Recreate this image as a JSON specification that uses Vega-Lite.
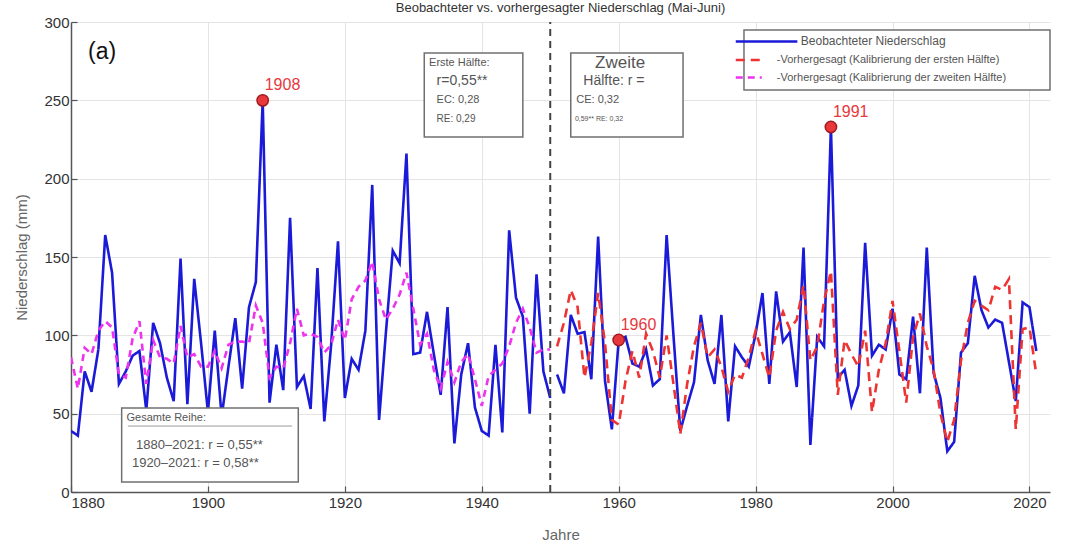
{
  "$schema": "https://vega.github.io/schema/vega-lite/v6.json",
  "width": 979,
  "height": 470,
  "autosize": {"type": "none"},
  "padding": {"left": 71, "top": 22, "right": 15, "bottom": 59},
  "background": "white",
  "title": {
    "text": "Beobachteter vs. vorhergesagter Niederschlag (Mai-Juni)",
    "font": "Liberation Sans",
    "fontSize": 13,
    "fontWeight": "normal",
    "color": "#333333",
    "anchor": "middle",
    "baseline": "middle",
    "offset": 0,
    "dy": 6
  },
  "config": {
    "view": {"stroke": null},
    "font": "Liberation Sans",
    "axis": {
      "labelFont": "Liberation Sans",
      "labelFontSize": 15,
      "labelColor": "#333333",
      "titleFont": "Liberation Sans",
      "titleFontSize": 15,
      "titleFontWeight": "normal",
      "titleColor": "#666666",
      "gridColor": "#e4e4e4",
      "gridWidth": 1,
      "domainColor": "#555555",
      "domainWidth": 1.5,
      "tickColor": "#555555",
      "tickSize": -6,
      "tickWidth": 1.2
    }
  },
  "datasets": {
    "series": [
      {"year": 1880, "value": 39, "series": "obs", "seg": "a"},
      {"year": 1881, "value": 36, "series": "obs", "seg": "a"},
      {"year": 1882, "value": 77, "series": "obs", "seg": "a"},
      {"year": 1883, "value": 64, "series": "obs", "seg": "a"},
      {"year": 1884, "value": 91, "series": "obs", "seg": "a"},
      {"year": 1885, "value": 164, "series": "obs", "seg": "a"},
      {"year": 1886, "value": 140, "series": "obs", "seg": "a"},
      {"year": 1887, "value": 69, "series": "obs", "seg": "a"},
      {"year": 1888, "value": 77, "series": "obs", "seg": "a"},
      {"year": 1889, "value": 87, "series": "obs", "seg": "a"},
      {"year": 1890, "value": 90, "series": "obs", "seg": "a"},
      {"year": 1891, "value": 52, "series": "obs", "seg": "a"},
      {"year": 1892, "value": 108, "series": "obs", "seg": "a"},
      {"year": 1893, "value": 95, "series": "obs", "seg": "a"},
      {"year": 1894, "value": 73, "series": "obs", "seg": "a"},
      {"year": 1895, "value": 58, "series": "obs", "seg": "a"},
      {"year": 1896, "value": 149, "series": "obs", "seg": "a"},
      {"year": 1897, "value": 56, "series": "obs", "seg": "a"},
      {"year": 1898, "value": 136, "series": "obs", "seg": "a"},
      {"year": 1899, "value": 95, "series": "obs", "seg": "a"},
      {"year": 1900, "value": 51, "series": "obs", "seg": "a"},
      {"year": 1901, "value": 103, "series": "obs", "seg": "a"},
      {"year": 1902, "value": 48, "series": "obs", "seg": "a"},
      {"year": 1903, "value": 80, "series": "obs", "seg": "a"},
      {"year": 1904, "value": 111, "series": "obs", "seg": "a"},
      {"year": 1905, "value": 66, "series": "obs", "seg": "a"},
      {"year": 1906, "value": 118, "series": "obs", "seg": "a"},
      {"year": 1907, "value": 134, "series": "obs", "seg": "a"},
      {"year": 1908, "value": 250, "series": "obs", "seg": "a"},
      {"year": 1909, "value": 57, "series": "obs", "seg": "a"},
      {"year": 1910, "value": 94, "series": "obs", "seg": "a"},
      {"year": 1911, "value": 65, "series": "obs", "seg": "a"},
      {"year": 1912, "value": 175, "series": "obs", "seg": "a"},
      {"year": 1913, "value": 67, "series": "obs", "seg": "a"},
      {"year": 1914, "value": 74, "series": "obs", "seg": "a"},
      {"year": 1915, "value": 53, "series": "obs", "seg": "a"},
      {"year": 1916, "value": 143, "series": "obs", "seg": "a"},
      {"year": 1917, "value": 45, "series": "obs", "seg": "a"},
      {"year": 1918, "value": 94, "series": "obs", "seg": "a"},
      {"year": 1919, "value": 160, "series": "obs", "seg": "a"},
      {"year": 1920, "value": 60, "series": "obs", "seg": "a"},
      {"year": 1921, "value": 85, "series": "obs", "seg": "a"},
      {"year": 1922, "value": 78, "series": "obs", "seg": "a"},
      {"year": 1923, "value": 103, "series": "obs", "seg": "a"},
      {"year": 1924, "value": 196, "series": "obs", "seg": "a"},
      {"year": 1925, "value": 46, "series": "obs", "seg": "a"},
      {"year": 1926, "value": 102, "series": "obs", "seg": "a"},
      {"year": 1927, "value": 154, "series": "obs", "seg": "a"},
      {"year": 1928, "value": 146, "series": "obs", "seg": "a"},
      {"year": 1929, "value": 216, "series": "obs", "seg": "a"},
      {"year": 1930, "value": 88, "series": "obs", "seg": "a"},
      {"year": 1931, "value": 89, "series": "obs", "seg": "a"},
      {"year": 1932, "value": 115, "series": "obs", "seg": "a"},
      {"year": 1933, "value": 88, "series": "obs", "seg": "a"},
      {"year": 1934, "value": 62, "series": "obs", "seg": "a"},
      {"year": 1935, "value": 118, "series": "obs", "seg": "a"},
      {"year": 1936, "value": 31, "series": "obs", "seg": "a"},
      {"year": 1937, "value": 75, "series": "obs", "seg": "a"},
      {"year": 1938, "value": 95, "series": "obs", "seg": "a"},
      {"year": 1939, "value": 54, "series": "obs", "seg": "a"},
      {"year": 1940, "value": 39, "series": "obs", "seg": "a"},
      {"year": 1941, "value": 36, "series": "obs", "seg": "a"},
      {"year": 1942, "value": 94, "series": "obs", "seg": "a"},
      {"year": 1943, "value": 38, "series": "obs", "seg": "a"},
      {"year": 1944, "value": 167, "series": "obs", "seg": "a"},
      {"year": 1945, "value": 124, "series": "obs", "seg": "a"},
      {"year": 1946, "value": 112, "series": "obs", "seg": "a"},
      {"year": 1947, "value": 50, "series": "obs", "seg": "a"},
      {"year": 1948, "value": 139, "series": "obs", "seg": "a"},
      {"year": 1949, "value": 77, "series": "obs", "seg": "a"},
      {"year": 1950, "value": 60, "series": "obs", "seg": "a"},
      {"year": 1951, "value": 75, "series": "obs", "seg": "b"},
      {"year": 1952, "value": 63, "series": "obs", "seg": "b"},
      {"year": 1953, "value": 113, "series": "obs", "seg": "b"},
      {"year": 1954, "value": 101, "series": "obs", "seg": "b"},
      {"year": 1955, "value": 102, "series": "obs", "seg": "b"},
      {"year": 1956, "value": 72, "series": "obs", "seg": "b"},
      {"year": 1957, "value": 163, "series": "obs", "seg": "b"},
      {"year": 1958, "value": 71, "series": "obs", "seg": "b"},
      {"year": 1959, "value": 40, "series": "obs", "seg": "b"},
      {"year": 1960, "value": 97, "series": "obs", "seg": "b"},
      {"year": 1961, "value": 99, "series": "obs", "seg": "b"},
      {"year": 1962, "value": 82, "series": "obs", "seg": "b"},
      {"year": 1963, "value": 80, "series": "obs", "seg": "b"},
      {"year": 1964, "value": 91, "series": "obs", "seg": "b"},
      {"year": 1965, "value": 68, "series": "obs", "seg": "b"},
      {"year": 1966, "value": 72, "series": "obs", "seg": "b"},
      {"year": 1967, "value": 164, "series": "obs", "seg": "b"},
      {"year": 1968, "value": 100, "series": "obs", "seg": "b"},
      {"year": 1969, "value": 39, "series": "obs", "seg": "b"},
      {"year": 1970, "value": 55, "series": "obs", "seg": "b"},
      {"year": 1971, "value": 70, "series": "obs", "seg": "b"},
      {"year": 1972, "value": 113, "series": "obs", "seg": "b"},
      {"year": 1973, "value": 84, "series": "obs", "seg": "b"},
      {"year": 1974, "value": 69, "series": "obs", "seg": "b"},
      {"year": 1975, "value": 113, "series": "obs", "seg": "b"},
      {"year": 1976, "value": 45, "series": "obs", "seg": "b"},
      {"year": 1977, "value": 93, "series": "obs", "seg": "b"},
      {"year": 1978, "value": 86, "series": "obs", "seg": "b"},
      {"year": 1979, "value": 80, "series": "obs", "seg": "b"},
      {"year": 1980, "value": 101, "series": "obs", "seg": "b"},
      {"year": 1981, "value": 127, "series": "obs", "seg": "b"},
      {"year": 1982, "value": 69, "series": "obs", "seg": "b"},
      {"year": 1983, "value": 128, "series": "obs", "seg": "b"},
      {"year": 1984, "value": 96, "series": "obs", "seg": "b"},
      {"year": 1985, "value": 102, "series": "obs", "seg": "b"},
      {"year": 1986, "value": 67, "series": "obs", "seg": "b"},
      {"year": 1987, "value": 156, "series": "obs", "seg": "b"},
      {"year": 1988, "value": 30, "series": "obs", "seg": "b"},
      {"year": 1989, "value": 99, "series": "obs", "seg": "b"},
      {"year": 1990, "value": 93, "series": "obs", "seg": "b"},
      {"year": 1991, "value": 233, "series": "obs", "seg": "b"},
      {"year": 1992, "value": 73, "series": "obs", "seg": "b"},
      {"year": 1993, "value": 78, "series": "obs", "seg": "b"},
      {"year": 1994, "value": 55, "series": "obs", "seg": "b"},
      {"year": 1995, "value": 68, "series": "obs", "seg": "b"},
      {"year": 1996, "value": 159, "series": "obs", "seg": "b"},
      {"year": 1997, "value": 87, "series": "obs", "seg": "b"},
      {"year": 1998, "value": 94, "series": "obs", "seg": "b"},
      {"year": 1999, "value": 91, "series": "obs", "seg": "b"},
      {"year": 2000, "value": 117, "series": "obs", "seg": "b"},
      {"year": 2001, "value": 75, "series": "obs", "seg": "b"},
      {"year": 2002, "value": 72, "series": "obs", "seg": "b"},
      {"year": 2003, "value": 112, "series": "obs", "seg": "b"},
      {"year": 2004, "value": 63, "series": "obs", "seg": "b"},
      {"year": 2005, "value": 156, "series": "obs", "seg": "b"},
      {"year": 2006, "value": 76, "series": "obs", "seg": "b"},
      {"year": 2007, "value": 60, "series": "obs", "seg": "b"},
      {"year": 2008, "value": 26, "series": "obs", "seg": "b"},
      {"year": 2009, "value": 32, "series": "obs", "seg": "b"},
      {"year": 2010, "value": 89, "series": "obs", "seg": "b"},
      {"year": 2011, "value": 95, "series": "obs", "seg": "b"},
      {"year": 2012, "value": 138, "series": "obs", "seg": "b"},
      {"year": 2013, "value": 116, "series": "obs", "seg": "b"},
      {"year": 2014, "value": 105, "series": "obs", "seg": "b"},
      {"year": 2015, "value": 110, "series": "obs", "seg": "b"},
      {"year": 2016, "value": 108, "series": "obs", "seg": "b"},
      {"year": 2017, "value": 83, "series": "obs", "seg": "b"},
      {"year": 2018, "value": 58, "series": "obs", "seg": "b"},
      {"year": 2019, "value": 121, "series": "obs", "seg": "b"},
      {"year": 2020, "value": 118, "series": "obs", "seg": "b"},
      {"year": 2021, "value": 90, "series": "obs", "seg": "b"},

      {"year": 1880, "value": 86, "series": "pred2", "seg": "a"},
      {"year": 1881, "value": 66, "series": "pred2", "seg": "a"},
      {"year": 1882, "value": 92, "series": "pred2", "seg": "a"},
      {"year": 1883, "value": 88, "series": "pred2", "seg": "a"},
      {"year": 1884, "value": 103, "series": "pred2", "seg": "a"},
      {"year": 1885, "value": 109, "series": "pred2", "seg": "a"},
      {"year": 1886, "value": 105, "series": "pred2", "seg": "a"},
      {"year": 1887, "value": 75, "series": "pred2", "seg": "a"},
      {"year": 1888, "value": 73, "series": "pred2", "seg": "a"},
      {"year": 1889, "value": 98, "series": "pred2", "seg": "a"},
      {"year": 1890, "value": 109, "series": "pred2", "seg": "a"},
      {"year": 1891, "value": 69, "series": "pred2", "seg": "a"},
      {"year": 1892, "value": 97, "series": "pred2", "seg": "a"},
      {"year": 1893, "value": 86, "series": "pred2", "seg": "a"},
      {"year": 1894, "value": 85, "series": "pred2", "seg": "a"},
      {"year": 1895, "value": 82, "series": "pred2", "seg": "a"},
      {"year": 1896, "value": 106, "series": "pred2", "seg": "a"},
      {"year": 1897, "value": 86, "series": "pred2", "seg": "a"},
      {"year": 1898, "value": 88, "series": "pred2", "seg": "a"},
      {"year": 1899, "value": 80, "series": "pred2", "seg": "a"},
      {"year": 1900, "value": 80, "series": "pred2", "seg": "a"},
      {"year": 1901, "value": 90, "series": "pred2", "seg": "a"},
      {"year": 1902, "value": 79, "series": "pred2", "seg": "a"},
      {"year": 1903, "value": 94, "series": "pred2", "seg": "a"},
      {"year": 1904, "value": 96, "series": "pred2", "seg": "a"},
      {"year": 1905, "value": 96, "series": "pred2", "seg": "a"},
      {"year": 1906, "value": 95, "series": "pred2", "seg": "a"},
      {"year": 1907, "value": 119, "series": "pred2", "seg": "a"},
      {"year": 1908, "value": 108, "series": "pred2", "seg": "a"},
      {"year": 1909, "value": 73, "series": "pred2", "seg": "a"},
      {"year": 1910, "value": 80, "series": "pred2", "seg": "a"},
      {"year": 1911, "value": 79, "series": "pred2", "seg": "a"},
      {"year": 1912, "value": 95, "series": "pred2", "seg": "a"},
      {"year": 1913, "value": 117, "series": "pred2", "seg": "a"},
      {"year": 1914, "value": 100, "series": "pred2", "seg": "a"},
      {"year": 1915, "value": 101, "series": "pred2", "seg": "a"},
      {"year": 1916, "value": 99, "series": "pred2", "seg": "a"},
      {"year": 1917, "value": 89, "series": "pred2", "seg": "a"},
      {"year": 1918, "value": 94, "series": "pred2", "seg": "a"},
      {"year": 1919, "value": 110, "series": "pred2", "seg": "a"},
      {"year": 1920, "value": 97, "series": "pred2", "seg": "a"},
      {"year": 1921, "value": 123, "series": "pred2", "seg": "a"},
      {"year": 1922, "value": 131, "series": "pred2", "seg": "a"},
      {"year": 1923, "value": 135, "series": "pred2", "seg": "a"},
      {"year": 1924, "value": 147, "series": "pred2", "seg": "a"},
      {"year": 1925, "value": 123, "series": "pred2", "seg": "a"},
      {"year": 1926, "value": 110, "series": "pred2", "seg": "a"},
      {"year": 1927, "value": 117, "series": "pred2", "seg": "a"},
      {"year": 1928, "value": 126, "series": "pred2", "seg": "a"},
      {"year": 1929, "value": 140, "series": "pred2", "seg": "a"},
      {"year": 1930, "value": 117, "series": "pred2", "seg": "a"},
      {"year": 1931, "value": 94, "series": "pred2", "seg": "a"},
      {"year": 1932, "value": 101, "series": "pred2", "seg": "a"},
      {"year": 1933, "value": 78, "series": "pred2", "seg": "a"},
      {"year": 1934, "value": 66, "series": "pred2", "seg": "a"},
      {"year": 1935, "value": 83, "series": "pred2", "seg": "a"},
      {"year": 1936, "value": 70, "series": "pred2", "seg": "a"},
      {"year": 1937, "value": 83, "series": "pred2", "seg": "a"},
      {"year": 1938, "value": 88, "series": "pred2", "seg": "a"},
      {"year": 1939, "value": 72, "series": "pred2", "seg": "a"},
      {"year": 1940, "value": 55, "series": "pred2", "seg": "a"},
      {"year": 1941, "value": 74, "series": "pred2", "seg": "a"},
      {"year": 1942, "value": 78, "series": "pred2", "seg": "a"},
      {"year": 1943, "value": 82, "series": "pred2", "seg": "a"},
      {"year": 1944, "value": 93, "series": "pred2", "seg": "a"},
      {"year": 1945, "value": 108, "series": "pred2", "seg": "a"},
      {"year": 1946, "value": 117, "series": "pred2", "seg": "a"},
      {"year": 1947, "value": 105, "series": "pred2", "seg": "a"},
      {"year": 1948, "value": 89, "series": "pred2", "seg": "a"},
      {"year": 1949, "value": 91, "series": "pred2", "seg": "a"},
      {"year": 1950, "value": 91, "series": "pred2", "seg": "a"},

      {"year": 1951, "value": 93, "series": "pred1", "seg": "b"},
      {"year": 1952, "value": 108, "series": "pred1", "seg": "b"},
      {"year": 1953, "value": 129, "series": "pred1", "seg": "b"},
      {"year": 1954, "value": 118, "series": "pred1", "seg": "b"},
      {"year": 1955, "value": 73, "series": "pred1", "seg": "b"},
      {"year": 1956, "value": 95, "series": "pred1", "seg": "b"},
      {"year": 1957, "value": 127, "series": "pred1", "seg": "b"},
      {"year": 1958, "value": 95, "series": "pred1", "seg": "b"},
      {"year": 1959, "value": 46, "series": "pred1", "seg": "b"},
      {"year": 1960, "value": 43, "series": "pred1", "seg": "b"},
      {"year": 1961, "value": 71, "series": "pred1", "seg": "b"},
      {"year": 1962, "value": 90, "series": "pred1", "seg": "b"},
      {"year": 1963, "value": 73, "series": "pred1", "seg": "b"},
      {"year": 1964, "value": 101, "series": "pred1", "seg": "b"},
      {"year": 1965, "value": 90, "series": "pred1", "seg": "b"},
      {"year": 1966, "value": 73, "series": "pred1", "seg": "b"},
      {"year": 1967, "value": 100, "series": "pred1", "seg": "b"},
      {"year": 1968, "value": 69, "series": "pred1", "seg": "b"},
      {"year": 1969, "value": 37, "series": "pred1", "seg": "b"},
      {"year": 1970, "value": 69, "series": "pred1", "seg": "b"},
      {"year": 1971, "value": 93, "series": "pred1", "seg": "b"},
      {"year": 1972, "value": 108, "series": "pred1", "seg": "b"},
      {"year": 1973, "value": 86, "series": "pred1", "seg": "b"},
      {"year": 1974, "value": 91, "series": "pred1", "seg": "b"},
      {"year": 1975, "value": 80, "series": "pred1", "seg": "b"},
      {"year": 1976, "value": 64, "series": "pred1", "seg": "b"},
      {"year": 1977, "value": 75, "series": "pred1", "seg": "b"},
      {"year": 1978, "value": 73, "series": "pred1", "seg": "b"},
      {"year": 1979, "value": 86, "series": "pred1", "seg": "b"},
      {"year": 1980, "value": 103, "series": "pred1", "seg": "b"},
      {"year": 1981, "value": 88, "series": "pred1", "seg": "b"},
      {"year": 1982, "value": 73, "series": "pred1", "seg": "b"},
      {"year": 1983, "value": 103, "series": "pred1", "seg": "b"},
      {"year": 1984, "value": 115, "series": "pred1", "seg": "b"},
      {"year": 1985, "value": 104, "series": "pred1", "seg": "b"},
      {"year": 1986, "value": 110, "series": "pred1", "seg": "b"},
      {"year": 1987, "value": 132, "series": "pred1", "seg": "b"},
      {"year": 1988, "value": 84, "series": "pred1", "seg": "b"},
      {"year": 1989, "value": 93, "series": "pred1", "seg": "b"},
      {"year": 1990, "value": 122, "series": "pred1", "seg": "b"},
      {"year": 1991, "value": 141, "series": "pred1", "seg": "b"},
      {"year": 1992, "value": 62, "series": "pred1", "seg": "b"},
      {"year": 1993, "value": 97, "series": "pred1", "seg": "b"},
      {"year": 1994, "value": 88, "series": "pred1", "seg": "b"},
      {"year": 1995, "value": 80, "series": "pred1", "seg": "b"},
      {"year": 1996, "value": 103, "series": "pred1", "seg": "b"},
      {"year": 1997, "value": 51, "series": "pred1", "seg": "b"},
      {"year": 1998, "value": 78, "series": "pred1", "seg": "b"},
      {"year": 1999, "value": 95, "series": "pred1", "seg": "b"},
      {"year": 2000, "value": 122, "series": "pred1", "seg": "b"},
      {"year": 2001, "value": 90, "series": "pred1", "seg": "b"},
      {"year": 2002, "value": 57, "series": "pred1", "seg": "b"},
      {"year": 2003, "value": 99, "series": "pred1", "seg": "b"},
      {"year": 2004, "value": 114, "series": "pred1", "seg": "b"},
      {"year": 2005, "value": 93, "series": "pred1", "seg": "b"},
      {"year": 2006, "value": 78, "series": "pred1", "seg": "b"},
      {"year": 2007, "value": 50, "series": "pred1", "seg": "b"},
      {"year": 2008, "value": 32, "series": "pred1", "seg": "b"},
      {"year": 2009, "value": 46, "series": "pred1", "seg": "b"},
      {"year": 2010, "value": 84, "series": "pred1", "seg": "b"},
      {"year": 2011, "value": 108, "series": "pred1", "seg": "b"},
      {"year": 2012, "value": 122, "series": "pred1", "seg": "b"},
      {"year": 2013, "value": 119, "series": "pred1", "seg": "b"},
      {"year": 2014, "value": 116, "series": "pred1", "seg": "b"},
      {"year": 2015, "value": 131, "series": "pred1", "seg": "b"},
      {"year": 2016, "value": 129, "series": "pred1", "seg": "b"},
      {"year": 2017, "value": 136, "series": "pred1", "seg": "b"},
      {"year": 2018, "value": 40, "series": "pred1", "seg": "b"},
      {"year": 2019, "value": 104, "series": "pred1", "seg": "b"},
      {"year": 2020, "value": 105, "series": "pred1", "seg": "b"},
      {"year": 2021, "value": 75, "series": "pred1", "seg": "b"}
    ],
    "peaks": [
      {"year": 1908, "value": 250, "label": "1908"},
      {"year": 1960, "value": 97, "label": "1960"},
      {"year": 1991, "value": 233, "label": "1991"}
    ],
    "boxes": [
      {"year": 1887.4, "year2": 1913.2, "value": 53.6, "value2": 6.4},
      {"year": 1931.6, "year2": 1946.0, "value": 280.2, "value2": 226.6},
      {"year": 1953.0, "year2": 1969.4, "value": 280.2, "value2": 226.6},
      {"year": 1978.3, "year2": 2023.0, "value": 294.9, "value2": 256.6}
    ],
    "keys": [
      {"year": 1977.1, "year2": 1986.1, "value": 287.6, "series": "obs"},
      {"year": 1977.1, "year2": 1980.9, "value": 275.7, "series": "pred1"},
      {"year": 1977.1, "year2": 1980.9, "value": 264.6, "series": "pred2"}
    ]
  },
  "encoding": {
    "x": {
      "field": "year",
      "type": "quantitative",
      "scale": {"domain": [1880, 2023], "nice": false, "zero": false},
      "axis": {
        "title": "Jahre",
        "values": [1880, 1900, 1920, 1940, 1960, 1980, 2000, 2020],
        "format": "d",
        "labelPadding": 9,
        "titlePadding": 17,
        "grid": true
      }
    },
    "y": {
      "field": "value",
      "type": "quantitative",
      "scale": {"domain": [0, 300], "nice": false, "zero": true},
      "axis": {
        "title": "Niederschlag (mm)",
        "values": [0, 50, 100, 150, 200, 250, 300],
        "labelPadding": 8,
        "titlePadding": 14,
        "grid": true
      }
    }
  },
  "layer": [
    {
      "data": {"name": "series"},
      "mark": {"type": "line", "strokeWidth": 2.6, "strokeJoin": "miter", "clip": true},
      "encoding": {
        "color": {
          "field": "series",
          "type": "nominal",
          "scale": {"domain": ["obs", "pred1", "pred2"], "range": ["#1a1ad8", "#ee3333", "#ee33ee"]},
          "legend": null
        },
        "strokeDash": {
          "field": "series",
          "type": "nominal",
          "scale": {"domain": ["obs", "pred1", "pred2"], "range": [[1, 0], [9, 6], [7, 5]]},
          "legend": null
        },
        "detail": {"field": "seg", "type": "nominal"},
        "order": {"field": "year", "type": "quantitative"}
      }
    },
    {
      "data": {"values": [{"year": 1950, "value": 0, "value2": 300}]},
      "mark": {"type": "rule", "color": "#444444", "strokeWidth": 2, "strokeDash": [7, 5]},
      "encoding": {"y2": {"field": "value2"}}
    },
    {
      "data": {"name": "peaks"},
      "mark": {"type": "point", "filled": true, "shape": "circle", "size": 130, "color": "#e8383c", "stroke": "#a01c20", "strokeWidth": 1.5, "opacity": 1}
    },
    {
      "data": {"name": "peaks"},
      "mark": {"type": "text", "align": "left", "baseline": "middle", "dx": 2, "dy": -15, "fontSize": 16, "color": "#e8383c", "font": "Liberation Sans"},
      "encoding": {"text": {"field": "label"}}
    },
    {
      "data": {"name": "boxes"},
      "mark": {"type": "rect", "fill": "white", "stroke": "#707070", "strokeWidth": 1.5},
      "encoding": {"x2": {"field": "year2"}, "y2": {"field": "value2"}}
    },
    {
      "data": {"values": [{"year": 1888.3, "year2": 1912.3, "value": 42.1}]},
      "mark": {"type": "rule", "color": "#9a9a9a", "strokeWidth": 1},
      "encoding": {"x2": {"field": "year2"}}
    },
    {
      "data": {"name": "keys"},
      "mark": {"type": "rule", "strokeWidth": 2.6},
      "encoding": {
        "x2": {"field": "year2"},
        "color": {"field": "series", "type": "nominal", "legend": null},
        "strokeDash": {"field": "series", "type": "nominal", "legend": null}
      }
    },
    {
      "data": {"values": [{"year": 1882.5, "value": 280.8, "label": "(a)"}]},
      "mark": {"type": "text", "align": "left", "baseline": "middle", "fontSize": 23, "color": "#111111", "font": "Liberation Sans"},
      "encoding": {"text": {"field": "label"}}
    },
    {
      "data": {"values": [
        {"year": 1932.3, "value": 273.6, "label": "Erste Hälfte:"},
        {"year": 1933.4, "value": 250.2, "label": "EC: 0,28"},
        {"year": 1953.8, "value": 250.2, "label": "CE: 0,32"},
        {"year": 1888.1, "value": 47.4, "label": "Gesamte Reihe:"}
      ]},
      "mark": {"type": "text", "align": "left", "baseline": "middle", "fontSize": 11, "color": "#555555", "font": "Liberation Sans"},
      "encoding": {"text": {"field": "label"}}
    },
    {
      "data": {"values": [{"year": 1933.4, "value": 237.9, "label": "RE: 0,29"}]},
      "mark": {"type": "text", "align": "left", "baseline": "middle", "fontSize": 10, "color": "#555555", "font": "Liberation Sans"},
      "encoding": {"text": {"field": "label"}}
    },
    {
      "data": {"values": [{"year": 1933.4, "value": 262.3, "label": "r=0,55**"}]},
      "mark": {"type": "text", "align": "left", "baseline": "middle", "fontSize": 14, "color": "#555555", "font": "Liberation Sans"},
      "encoding": {"text": {"field": "label"}}
    },
    {
      "data": {"values": [{"year": 1953.6, "value": 237.9, "label": "0,59** RE: 0,32"}]},
      "mark": {"type": "text", "align": "left", "baseline": "middle", "fontSize": 7, "color": "#555555", "font": "Liberation Sans"},
      "encoding": {"text": {"field": "label"}}
    },
    {
      "data": {"values": [{"year": 1960.2, "value": 273.6, "label": "Zweite"}]},
      "mark": {"type": "text", "align": "center", "baseline": "middle", "fontSize": 17, "color": "#555555", "font": "Liberation Sans"},
      "encoding": {"text": {"field": "label"}}
    },
    {
      "data": {"values": [{"year": 1959.3, "value": 262.3, "label": "Hälfte: r ="}]},
      "mark": {"type": "text", "align": "center", "baseline": "middle", "fontSize": 14, "color": "#555555", "font": "Liberation Sans"},
      "encoding": {"text": {"field": "label"}}
    },
    {
      "data": {"values": [
        {"year": 1889.5, "value": 30.0, "label": "1880–2021: r = 0,55**"},
        {"year": 1888.9, "value": 18.3, "label": "1920–2021: r = 0,58**"}
      ]},
      "mark": {"type": "text", "align": "left", "baseline": "middle", "fontSize": 13, "color": "#555555", "font": "Liberation Sans"},
      "encoding": {"text": {"field": "label"}}
    },
    {
      "data": {"values": [{"year": 1986.6, "value": 288.1, "label": "Beobachteter Niederschlag"}]},
      "mark": {"type": "text", "align": "left", "baseline": "middle", "fontSize": 12, "color": "#555555", "font": "Liberation Sans"},
      "encoding": {"text": {"field": "label"}}
    },
    {
      "data": {"values": [
        {"year": 1983.1, "value": 275.7, "label": "-Vorhergesagt (Kalibrierung der ersten Hälfte)"},
        {"year": 1983.1, "value": 264.1, "label": "-Vorhergesagt (Kalibrierung der zweiten Hälfte)"}
      ]},
      "mark": {"type": "text", "align": "left", "baseline": "middle", "fontSize": 11, "color": "#555555", "font": "Liberation Sans"},
      "encoding": {"text": {"field": "label"}}
    }
  ]
}
